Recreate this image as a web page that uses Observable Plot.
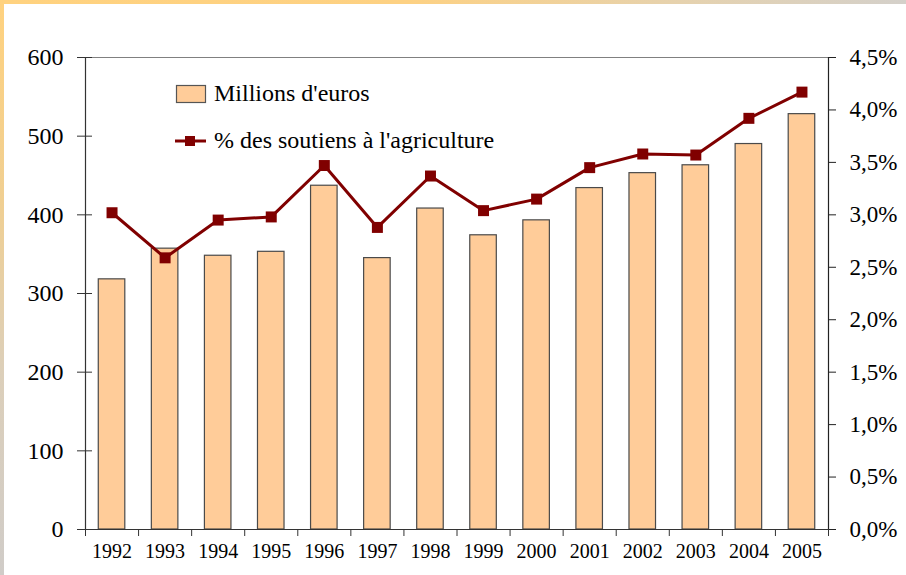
<!DOCTYPE html>
<html>
<head>
<meta charset="utf-8">
<script src="https://cdn.jsdelivr.net/npm/d3@7"></script>
<script src="https://cdn.jsdelivr.net/npm/@observablehq/plot@0.6"></script>
<style>
  #wrap, #wrap * { font-family: 'Liberation Serif', 'Times New Roman', Tinos, serif !important; }
</style>
</head>
<body style="margin:0;padding:0;background:#ffffff;">
<div id="wrap" style="position:relative;width:906px;height:575px;overflow:hidden;background:#ffffff;">
  <div id="chart"></div>
  <div style="position:absolute;left:0;top:0;width:906px;height:4px;background:linear-gradient(to right, #FFD27F 0%, #FDD183 45%, #E6D2AE 75%, #D4D0CA 100%)"></div>
  <div style="position:absolute;left:0;top:0;width:4px;height:575px;background:linear-gradient(to bottom, #FFD27F 0%, #F0CF92 35%, #DCCFBA 65%, #D0CCC8 100%)"></div>
  <div style="position:absolute;left:175px;top:80px;font-size:24px;color:#000;display:flex;align-items:center;white-space:nowrap;">
    <svg width="33" height="20" style="margin-right:6px"><rect x="1.5" y="1.5" width="29" height="17" fill="#FFCC99" stroke="#555" stroke-width="1.2"/></svg>
    <span id="leg1"></span>
  </div>
  <div style="position:absolute;left:175px;top:127px;font-size:24px;color:#000;display:flex;align-items:center;white-space:nowrap;">
    <svg width="33" height="20" style="margin-right:6px"><line x1="0" y1="10" x2="31" y2="10" stroke="#800000" stroke-width="3"/><rect x="10" y="5" width="10" height="10" fill="#800000"/></svg>
    <span id="leg2"></span>
  </div>
</div>
<script>
const years = [1992, 1993, 1994, 1995, 1996, 1997, 1998, 1999, 2000, 2001, 2002, 2003, 2004, 2005];
const millions = [318, 357, 348, 353, 437, 345, 408, 374, 393, 434, 453, 463, 490, 528];
const pct = [3.02, 2.59, 2.95, 2.98, 3.47, 2.88, 3.37, 3.04, 3.15, 3.45, 3.58, 3.57, 3.92, 4.17];
const leftTicks = [0, 100, 200, 300, 400, 500, 600];
const rightTicks = [0, 0.5, 1, 1.5, 2, 2.5, 3, 3.5, 4, 4.5];
const rightTickLabels = ["0,0%", "0,5%", "1,0%", "1,5%", "2,0%", "2,5%", "3,0%", "3,5%", "4,0%", "4,5%"];
const seriesNames = ["Millions d'euros", "% des soutiens à l'agriculture"];

document.getElementById("leg1").textContent = seriesNames[0];
document.getElementById("leg2").textContent = seriesNames[1];

const FONT = "'Liberation Serif', 'Times New Roman', Tinos, serif";
const yMax = 600, pMax = 4.5;
const toY = p => p * yMax / pMax;
const data = years.map((y, i) => ({year: y, value: millions[i], pct: pct[i]}));
const xDomain = [years[0] - 0.5, years[years.length - 1] + 0.5];
const boundaries = years.map(y => y - 0.5).concat([years[years.length - 1] + 0.5]);

const chart = Plot.plot({
  width: 906,
  height: 575,
  marginLeft: 85,
  marginRight: 78,
  marginTop: 57,
  marginBottom: 46,
  style: {background: "transparent", fontFamily: FONT, color: "#000", overflow: "visible"},
  x: {type: "linear", domain: xDomain},
  y: {domain: [0, yMax]},
  marks: [
    Plot.rectY(data, {x1: d => d.year - 0.25, x2: d => d.year + 0.25, y: "value", fill: "#FFCC99", stroke: "#4a4a4a", strokeWidth: 1.2}),
    Plot.ruleY([yMax], {stroke: "#808080", strokeWidth: 1.2}),
    Plot.ruleX([xDomain[0]], {stroke: "#333", strokeWidth: 1.2}),
    Plot.ruleX([xDomain[1]], {stroke: "#222", strokeWidth: 1.2}),
    Plot.ruleY([0], {stroke: "#333", strokeWidth: 1.2}),
    Plot.axisY({ticks: leftTicks, anchor: "left", tickSize: 15, dx: 7, tickFormat: () => "", stroke: "#333", label: null}),
    Plot.axisY({ticks: leftTicks, anchor: "left", tickSize: 0, tickPadding: 22, fontSize: 24, fontFamily: FONT, label: null, fill: "#000"}),
    Plot.axisY(rightTicks.map(toY), {anchor: "right", tickSize: 7, tickPadding: 14, fontSize: 23, fontFamily: FONT, label: null, stroke: "#222", fill: "#000",
      tickFormat: (d, i) => rightTickLabels[i]}),
    Plot.axisX({ticks: boundaries, anchor: "bottom", tickSize: 7, tickFormat: () => "", stroke: "#333", label: null}),
    Plot.axisX({ticks: years, anchor: "bottom", tickSize: 0, tickPadding: 14, fontSize: 20, fontFamily: FONT, label: null, fill: "#000", tickFormat: d => String(d)}),
    Plot.line(data, {x: "year", y: d => toY(d.pct), stroke: "#800000", strokeWidth: 3}),
    Plot.dot(data, {x: "year", y: d => toY(d.pct), symbol: "square", r: 6.2, fill: "#800000", stroke: "none"})
  ]
});
chart.querySelectorAll("text, tspan, g").forEach(el => el.style.setProperty("font-family", FONT, "important"));
document.getElementById("chart").appendChild(chart);
document.querySelectorAll("#wrap span, #wrap div").forEach(el => el.style.setProperty("font-family", FONT, "important"));
</script>
</body>
</html>
